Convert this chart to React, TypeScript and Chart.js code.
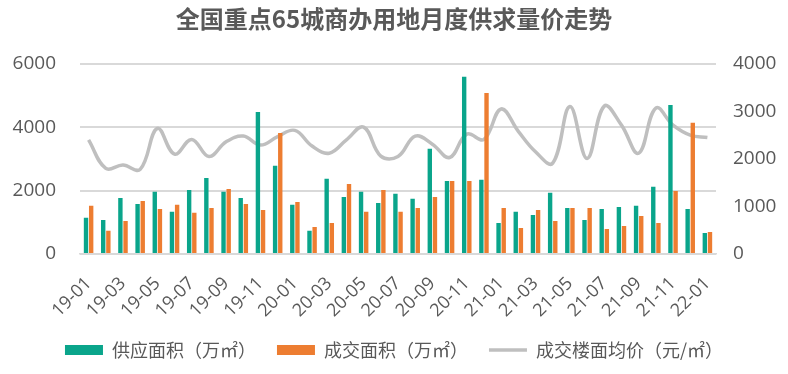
import React, { useEffect, useRef } from "react";
import { Chart, registerables } from "chart.js";

Chart.register(...registerables);

const months: string[] = [
  "19-01", "19-02", "19-03", "19-04", "19-05", "19-06", "19-07", "19-08", "19-09", "19-10", "19-11", "19-12",
  "20-01", "20-02", "20-03", "20-04", "20-05", "20-06", "20-07", "20-08", "20-09", "20-10", "20-11", "20-12",
  "21-01", "21-02", "21-03", "21-04", "21-05", "21-06", "21-07", "21-08", "21-09", "21-10", "21-11", "21-12",
  "22-01",
];

const supplyArea: number[] = [
  1140, 1075, 1770, 1580, 1960, 1330, 2020, 2400, 1960, 1770, 4480, 2780,
  1550, 730, 2370, 1800, 1960, 1610, 1900, 1740, 3320, 2300, 5590, 2340,
  980, 1330, 1230, 1930, 1450, 1075, 1420, 1480, 1520, 2120, 4700, 1420,
  665,
];

const dealArea: number[] = [
  1520, 730, 1040, 1670, 1420, 1550, 1300, 1450, 2050, 1580, 1390, 3820,
  1640, 850, 980, 2210, 1330, 2020, 1330, 1450, 1800, 2300, 2300, 5080,
  1450, 820, 1390, 1040, 1450, 1450, 790, 880, 1200, 980, 1990, 4140,
  695,
];

const avgPrice: number[] = [
  2400, 1800, 1870, 1780, 2640, 2100, 2410, 2050, 2360, 2480, 2290, 2470,
  2600, 2270, 2120, 2400, 2670, 2060, 2050, 2480, 2310, 2030, 2520, 2410,
  3050, 2580, 2150, 1910, 3100, 2010, 3110, 2710, 2120, 3070, 2710, 2500,
  2450,
];

const leftTicks: number[] = [0, 2000, 4000, 6000];
const rightTicks: number[] = [0, 1000, 2000, 3000, 4000];

const titleText = "全国重点65城商办用地月度供求量价走势";
const seriesNames: string[] = ["供应面积（万㎡）", "成交面积（万㎡）", "成交楼面均价（元/㎡）"];

const GREEN = "#0aa58b";
const ORANGE = "#ed7d31";
const GRAYLINE = "#bfbfbf";
const TEXT = "#595959";
const GRID = "#d9d9d9";
const FONT = '"Open Sans", "Noto Sans CJK SC", sans-serif';
const CJK = '"Noto Sans CJK SC", sans-serif';

export default function App() {
  const ref = useRef<HTMLCanvasElement | null>(null);

  useEffect(() => {
    document.body.style.margin = "0";
    const canvas = ref.current;
    if (!canvas) return;
    const chart = new Chart(canvas, {
      type: "bar",
      data: {
        labels: months,
        datasets: [
          {
            type: "bar",
            label: seriesNames[0],
            data: supplyArea,
            backgroundColor: GREEN,
            borderWidth: 0,
            yAxisID: "y",
            order: 1,
            pointStyle: "rect",
            categoryPercentage: 0.6,
            barPercentage: 0.85,
          } as any,
          {
            type: "bar",
            label: seriesNames[1],
            data: dealArea,
            backgroundColor: ORANGE,
            borderWidth: 0,
            yAxisID: "y",
            order: 2,
            pointStyle: "rect",
            categoryPercentage: 0.6,
            barPercentage: 0.85,
          } as any,
          {
            type: "line",
            label: seriesNames[2],
            data: avgPrice,
            borderColor: GRAYLINE,
            backgroundColor: GRAYLINE,
            borderWidth: 3.5,
            pointRadius: 0,
            pointStyle: "line",
            tension: 0.4,
            yAxisID: "y1",
            order: 3,
          } as any,
        ],
      },
      options: {
        animation: false,
        responsive: false,
        maintainAspectRatio: false,
        layout: { padding: { left: 0, right: 0, top: 0, bottom: 5 } },
        plugins: {
          title: {
            display: true,
            text: titleText,
            color: TEXT,
            font: { family: CJK, size: 24, weight: "bold" },
            padding: { top: 4, bottom: 31 },
          },
          legend: {
            display: true,
            position: "bottom",
            labels: {
              color: TEXT,
              font: { family: CJK, size: 18 },
              usePointStyle: true,
              pointStyleWidth: 38,
              boxHeight: 10,
              padding: 21,
            },
          },
          tooltip: { enabled: false },
        },
        scales: {
          x: {
            grid: { display: false },
            border: { display: true, color: GRID, width: 1.5 },
            ticks: {
              color: TEXT,
              font: { family: FONT, size: 18 },
              autoSkip: false,
              maxRotation: 45,
              minRotation: 45,
              padding: 11,
              callback: (_v: any, i: number) => (i % 2 === 0 ? months[i] : ""),
            },
            afterFit: (s: any) => {
              s.height = 66;
            },
          },
          y: {
            position: "left",
            min: 0,
            max: 6000,
            afterBuildTicks: (s: any) => {
              s.ticks = leftTicks.map((v) => ({ value: v }));
            },
            grid: { color: GRID, lineWidth: 2, drawTicks: false },
            border: { display: false },
            ticks: {
              color: TEXT,
              font: { family: FONT, size: 19 },
              padding: 24,
              callback: (v: any) => String(v),
            },
            afterFit: (s: any) => {
              s.width = 80;
            },
          },
          y1: {
            position: "right",
            min: 0,
            max: 4000,
            afterBuildTicks: (s: any) => {
              s.ticks = rightTicks.map((v) => ({ value: v }));
            },
            grid: { display: false, drawTicks: false },
            border: { display: false },
            ticks: {
              color: TEXT,
              font: { family: FONT, size: 19 },
              padding: 17,
              callback: (v: any) => String(v),
            },
            afterFit: (s: any) => {
              s.width = 72;
            },
          },
        },
      } as any,
    });
    return () => chart.destroy();
  }, []);

  return (
    <div style={{ width: 788, height: 374 }}>
      <canvas ref={ref} width={788} height={374} style={{ display: "block", width: 788, height: 374 }} />
    </div>
  );
}
